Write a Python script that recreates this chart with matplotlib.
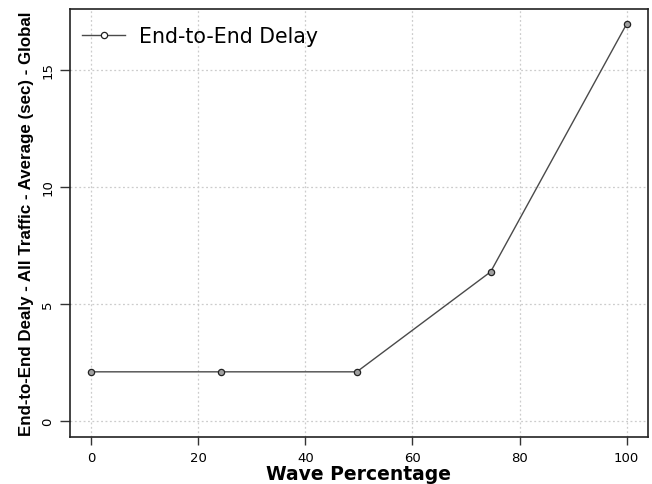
import matplotlib; matplotlib.use('agg')
import matplotlib.pyplot as plt
import numpy as np

# Werte
wave = [0, 24.2, 49.6, 74.6, 100]
delay = [2.1, 2.1, 2.1, 6.37, 16.95]
xticks = [0, 20, 40, 60, 80, 100]
yticks = [0, 5, 10, 15]

plt.rcParams['font.family'] = ['DejaVu Sans']

fig = plt.figure(figsize=(6.52, 4.85), dpi=100)
ax = fig.add_axes([0.107, 0.097, 0.887, 0.882])

ax.plot(wave, delay, '-', color='#4a4a4a', lw=1.0, marker='o', ms=4.5,
        mfc='#a0a0a0', mec='#222222', mew=0.9, label='End-to-End Delay')

# R-artige Achsen: 4% Rand
ax.set_xlim(-4, 104)
ax.set_ylim(-0.68, 17.58)
ax.set_xticks(xticks)
ax.set_yticks(yticks)
ax.grid(True, color='#cccccc', linestyle=(0, (1.5, 2)), lw=0.9)
ax.tick_params(axis='both', width=1, labelsize=9.5, color='#333333')
ax.tick_params(axis='x', length=5.8, pad=4.5)
ax.tick_params(axis='y', length=7.2, pad=4)
for lab in ax.get_yticklabels():
    lab.set_rotation(90)
    lab.set_va('center')
for s in ax.spines.values():
    s.set_linewidth(1.2)
    s.set_color('#222222')

ax.set_xlabel('Wave Percentage', fontsize=13.5, fontweight='bold', labelpad=0)
ax.set_ylabel('End-to-End Dealy - All Traffic - Average (sec) - Global',
              fontsize=12.2, fontweight='bold', family='Liberation Sans')
ax.yaxis.set_label_coords(-0.062, 0.5)

leg = ax.legend(loc='upper left', bbox_to_anchor=(0.0, 0.99), frameon=False,
                fontsize=14.8, handlelength=2.1, handletextpad=0.65,
                borderaxespad=0.2, borderpad=0.4)
leg.legend_handles[0].set_markerfacecolor('white')

plt.savefig('out.png', dpi=100)
